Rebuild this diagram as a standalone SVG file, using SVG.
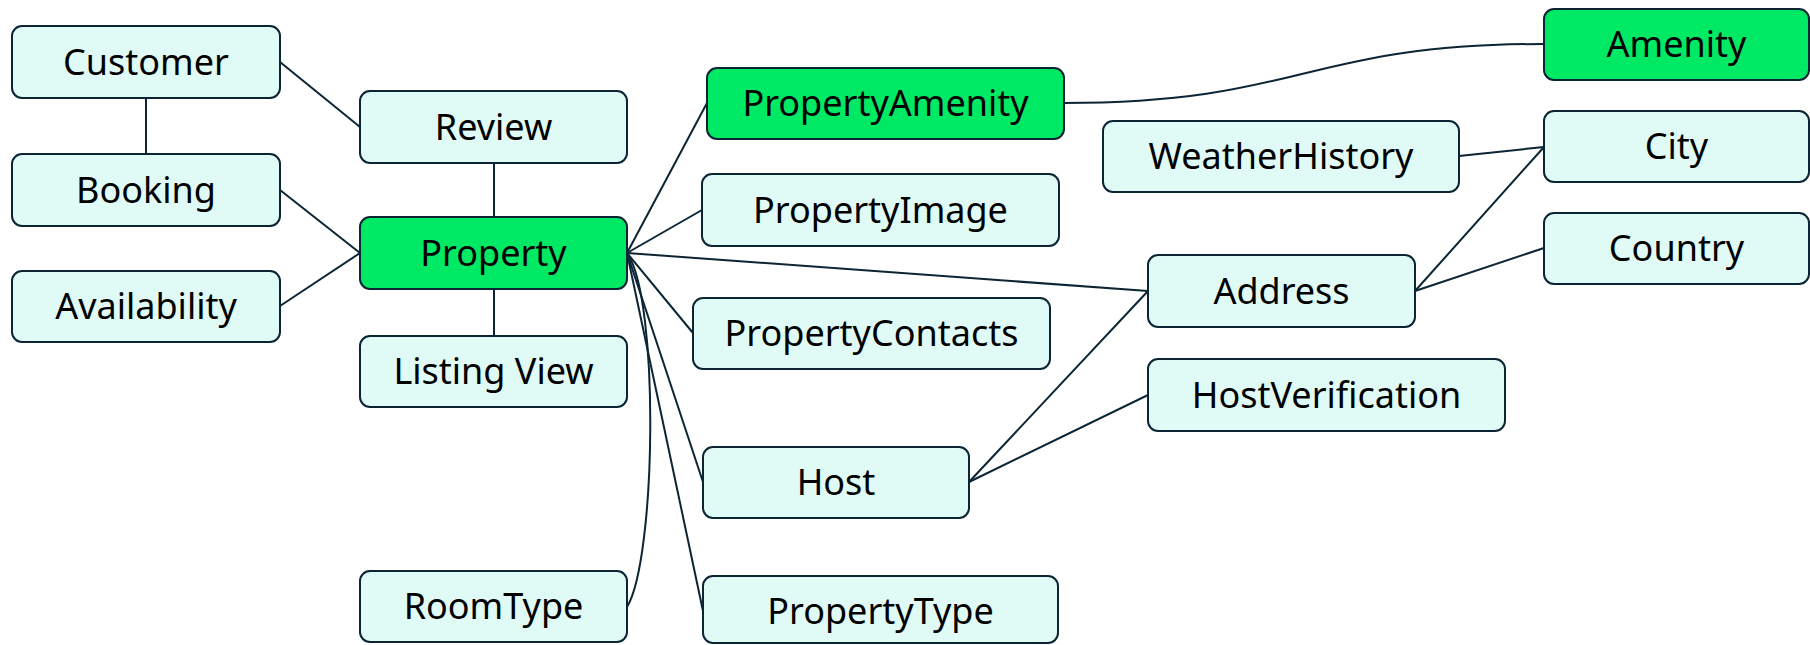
<svg xmlns="http://www.w3.org/2000/svg" width="1810" height="645" viewBox="0 0 1810 645">
  <style>
    .node rect { fill: #e0faf5; stroke: #0b2535; stroke-width: 2; }
    .node.key rect { fill: #00e964; }
    .node text { font-family: "Noto Sans", "Open Sans", sans-serif; font-size: 36px; fill: #000; text-anchor: middle; }
    .edges path { fill: none; stroke: #0b2535; stroke-width: 2; }
  </style>
  <rect width="1810" height="645" fill="#ffffff"/>

  <!-- connectors -->
  <g class="edges">
    <path d="M146,98 L146,154"/>
    <path d="M280,62 L360,127"/>
    <path d="M280,190 L360,253"/>
    <path d="M280,306 L360,253"/>
    <path d="M494,163 L494,217"/>
    <path d="M494,289 L494,336"/>
    <path d="M627,253 L707,103"/>
    <path d="M627,253 L702,210"/>
    <path d="M627,253 L1148,291"/>
    <path d="M627,253 L693,333"/>
    <path d="M627,253 L703,482"/>
    <path d="M627,253 L703,611"/>
    <path d="M627,253 C660,300 656,560 627,607"/>
    <path d="M1064,103 C1304,103 1304,44 1544,44"/>
    <path d="M1459,156 L1544,147"/>
    <path d="M1415,291 L1544,147"/>
    <path d="M1415,291 L1544,248"/>
    <path d="M969,482 L1148,291"/>
    <path d="M969,482 L1148,395"/>
  </g>

  <g id="customer" class="node"><rect x="12" y="26" width="268" height="72" rx="10"/><text x="146" y="75">Customer</text></g>
  <g id="booking" class="node"><rect x="12" y="154" width="268" height="72" rx="10"/><text x="146" y="203">Booking</text></g>
  <g id="availability" class="node"><rect x="12" y="271" width="268" height="71" rx="10"/><text x="146" y="319">Availability</text></g>
  <g id="review" class="node"><rect x="360" y="91" width="267" height="72" rx="10"/><text x="493.5" y="140">Review</text></g>
  <g id="property" class="node key"><rect x="360" y="217" width="267" height="72" rx="10"/><text x="493.5" y="266">Property</text></g>
  <g id="listing-view" class="node"><rect x="360" y="336" width="267" height="71" rx="10"/><text x="493.5" y="384">Listing View</text></g>
  <g id="room-type" class="node"><rect x="360" y="571" width="267" height="71" rx="10"/><text x="493.5" y="619">RoomType</text></g>
  <g id="property-amenity" class="node key"><rect x="707" y="68" width="357" height="71" rx="10"/><text x="885.5" y="116">PropertyAmenity</text></g>
  <g id="property-image" class="node"><rect x="702" y="174" width="357" height="72" rx="10"/><text x="880.5" y="223">PropertyImage</text></g>
  <g id="property-contacts" class="node"><rect x="693" y="298" width="357" height="71" rx="10"/><text x="871.5" y="346">PropertyContacts</text></g>
  <g id="host" class="node"><rect x="703" y="447" width="266" height="71" rx="10"/><text x="836" y="495">Host</text></g>
  <g id="property-type" class="node"><rect x="703" y="576" width="355" height="67" rx="10"/><text x="880.5" y="624">PropertyType</text></g>
  <g id="weather-history" class="node"><rect x="1103" y="121" width="356" height="71" rx="10"/><text x="1281" y="169">WeatherHistory</text></g>
  <g id="address" class="node"><rect x="1148" y="255" width="267" height="72" rx="10"/><text x="1281.5" y="304">Address</text></g>
  <g id="host-verification" class="node"><rect x="1148" y="359" width="357" height="72" rx="10"/><text x="1326.5" y="408">HostVerification</text></g>
  <g id="amenity" class="node key"><rect x="1544" y="9" width="265" height="71" rx="10"/><text x="1676.5" y="57">Amenity</text></g>
  <g id="city" class="node"><rect x="1544" y="111" width="265" height="71" rx="10"/><text x="1676.5" y="159">City</text></g>
  <g id="country" class="node"><rect x="1544" y="213" width="265" height="71" rx="10"/><text x="1676.5" y="261">Country</text></g>
</svg>
